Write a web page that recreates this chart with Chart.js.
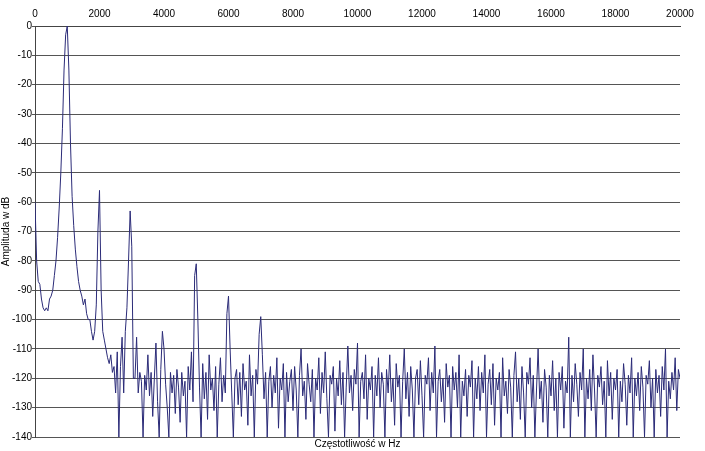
<!DOCTYPE html>
<html>
<head>
<meta charset="utf-8">
<script src="https://cdn.jsdelivr.net/npm/chart.js@4"></script>
<style>
  html, body { margin: 0; padding: 0; background: #fff; }
  #wrap { width: 705px; height: 451px; }
</style>
</head>
<body>
<div id="wrap"><canvas id="chart"></canvas></div>
<script>
const stepHz = 50;
const xTicks = [0, 2000, 4000, 6000, 8000, 10000, 12000, 14000, 16000, 18000, 20000];
const amplitudeDb = [
  -60,-80,-87,-88,-93,-96,-97,-96,-97,-93,-92,-90,-85,-80,-72,-62,-50,-35,-15,-3,
  0,-15,-40,-58,-68,-76,-82,-87,-90,-92,-95,-93,-98,-100,-100,-104,-107,-104,-95,-70,
  -56,-90,-104,-107,-110,-113,-115,-112,-118,-116,-125,-111,-140,-116,-106,-125,-104,-96,-80,-63,
  -75,-120,-120,-106,-125,-118,-121,-140,-119,-124,-112,-126,-118,-133,-120,-108,-128,-140,-117,-104,
  -110,-122,-130,-140,-118,-125,-119,-132,-117,-123,-135,-118,-126,-121,-140,-116,-124,-111,-128,-85,
  -81,-100,-123,-140,-115,-127,-118,-134,-112,-124,-120,-131,-116,-140,-122,-113,-128,-119,-125,-98,
  -92,-110,-125,-140,-120,-117,-129,-118,-133,-115,-124,-121,-136,-112,-126,-119,-140,-117,-122,-105,
  -99,-112,-127,-118,-140,-121,-116,-130,-119,-125,-113,-137,-120,-124,-115,-140,-118,-128,-121,-117,
  -131,-116,-124,-140,-119,-110,-126,-121,-134,-115,-122,-128,-117,-140,-120,-124,-113,-132,-118,-125,
  -111,-127,-140,-119,-122,-116,-138,-120,-126,-114,-129,-118,-140,-123,-109,-125,-119,-131,-117,-122,
  -108,-140,-121,-118,-127,-112,-134,-120,-124,-116,-140,-119,-126,-113,-130,-118,-122,-140,-117,-125,
  -112,-128,-120,-136,-115,-123,-119,-140,-121,-110,-127,-118,-133,-116,-124,-140,-120,-117,-129,-114,
  -126,-140,-119,-122,-113,-131,-118,-125,-109,-140,-121,-117,-128,-120,-135,-115,-123,-119,-140,-116,
  -124,-118,-130,-112,-140,-121,-126,-117,-133,-119,-123,-114,-140,-120,-127,-116,-131,-118,-125,-112,
  -140,-122,-117,-129,-115,-136,-120,-124,-118,-140,-113,-126,-121,-132,-117,-123,-140,-119,-111,-128,
  -120,-134,-116,-125,-140,-118,-122,-113,-130,-119,-140,-124,-110,-127,-121,-135,-117,-123,-140,-119,
  -126,-114,-131,-120,-140,-118,-124,-116,-137,-121,-125,-106,-140,-119,-128,-115,-122,-133,-118,-124,
  -110,-140,-120,-127,-117,-131,-112,-124,-140,-119,-123,-116,-129,-121,-140,-114,-126,-118,-134,-120,
  -124,-117,-140,-121,-128,-115,-122,-136,-119,-125,-113,-140,-120,-126,-118,-131,-116,-123,-140,-119,
  -122,-114,-130,-120,-140,-117,-125,-119,-133,-116,-124,-110,-140,-121,-127,-118,-124,-113,-131,-117,
  -120
];

const points = amplitudeDb.map((v, i) => ({ x: i * stepHz, y: v }));
const font = { family: "Liberation Sans, Arial, sans-serif", size: 10 };

const bottomTitle = {
  id: 'bottomTitle',
  afterDraw(chart) {
    const { ctx, chartArea } = chart;
    ctx.save();
    ctx.font = '10px "Liberation Sans", Arial, sans-serif';
    ctx.fillStyle = '#000';
    ctx.textAlign = 'center';
    ctx.textBaseline = 'top';
    ctx.fillText('Częstotliwość w Hz', (chartArea.left + chartArea.right) / 2, chartArea.bottom + 2);
    ctx.restore();
  },
};

new Chart(document.getElementById('chart'), {
  type: 'scatter',
  data: {
    datasets: [{
      data: points,
      showLine: true,
      borderColor: '#2b2b78',
      borderWidth: 1,
      pointRadius: 0,
      tension: 0,
    }],
  },
  options: {
    responsive: true,
    maintainAspectRatio: false,
    animation: false,
    layout: { padding: { right: 25, top: 6, bottom: 14, left: 0 } },
    plugins: { legend: { display: false }, tooltip: { enabled: false } },
    scales: {
      x: {
        type: 'linear',
        position: 'top',
        min: 0, max: 20000,
        afterBuildTicks: s => { s.ticks = xTicks.map(v => ({ value: v })); },
        ticks: { font, color: '#000', padding: 2, maxRotation: 0, callback: v => String(v) },
        grid: { display: false, drawTicks: true, tickLength: 4, color: '#444' },
        border: { color: '#444' },
      },
      y: {
        min: -140, max: 0,
        ticks: { stepSize: 10, font, color: '#000', padding: 0 },
        grid: { color: '#555', lineWidth: 1, tickLength: 3 },
        border: { color: '#444' },
        title: { display: true, text: 'Amplituda w dB', font, color: '#000', padding: 0 },
      },
    },
  },
  plugins: [bottomTitle],
});
</script>
</body>
</html>
